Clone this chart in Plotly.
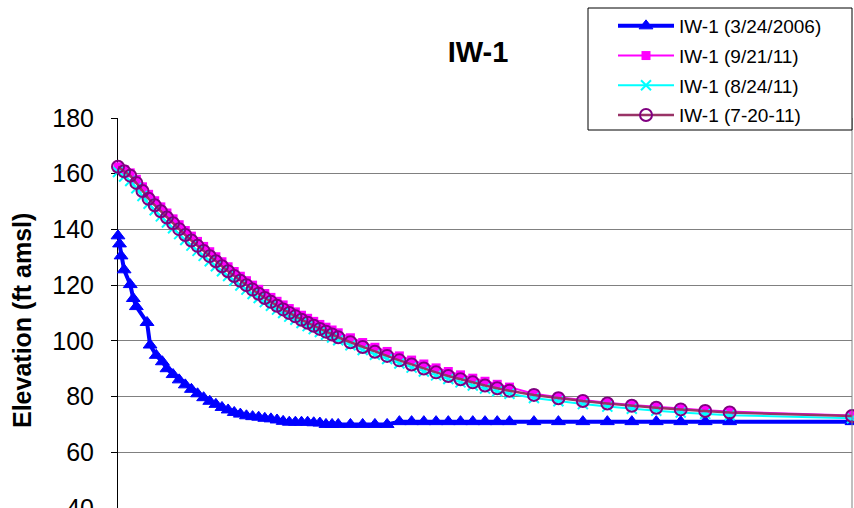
import plotly.graph_objects as go

# ---- data (time since start, arbitrary units; elevation ft amsl) ----
t_2006 = [0, 0.25, 0.5, 1, 2, 2.5, 3, 4.75, 5.25, 6.25, 7.25,
          8, 9, 10, 11, 12, 13, 14, 15, 16, 17, 18, 19, 20, 21, 22, 23, 24, 25, 26, 27,
          28, 29, 30, 31, 32, 33, 34, 35, 36,
          38, 40, 42, 44, 46, 48, 50, 52, 54, 56, 58, 60, 62, 64,
          68, 72, 76, 80, 84, 88, 92, 96, 100, 120]
iw1_2006 = [137.7, 134.8, 130.5, 125.5, 120.2, 115.2, 112.3, 106.6, 98.5, 94.8, 92.5,
            90.0, 87.9, 86.0, 84.2, 82.6, 81.0, 79.6, 78.3, 77.2, 76.1,
            75.2, 74.3, 73.7, 73.1, 72.8, 72.6, 72.2, 72.0, 71.6, 71.1,
            70.8, 70.8, 70.8, 70.8, 70.6, 70.5, 70.0, 70.0, 70.0,
            70.0, 70.0, 70.0, 70.0, 71.0, 71.0, 71.0, 71.0, 71.0, 71.0, 71.0, 71.0, 71.0, 71.0,
            71.0, 71.0, 71.0, 71.0, 71.0, 71.0, 71.0, 71.0, 71.0, 71.0]

t_2011 = [0, 1, 2, 3, 4, 5, 6, 7, 8, 9,
          10, 11, 12, 13, 14, 15, 16, 17, 18, 19,
          20, 21, 22, 23, 24, 25, 26, 27, 28, 29,
          30, 31, 32, 33, 34, 35, 36,
          38, 40, 42, 44, 46, 48, 50, 52, 54, 56, 58, 60, 62, 64,
          68, 72, 76, 80, 84, 88, 92, 96, 100, 120]
iw1_0921 = [162.5, 161.5, 160.3, 158.0, 155.3, 152.6, 150.3, 148.1, 145.9, 143.8,
            141.7, 139.6, 137.6, 135.7, 133.9, 132.0, 130.2, 128.4, 126.6, 124.9,
            123.2, 121.6, 120.0, 118.5, 117.0, 115.6, 114.2, 112.9, 111.6, 110.4,
            109.2, 108.1, 107.0, 105.9, 104.9, 103.9, 102.9,
            101.1, 99.4, 97.7, 96.2, 94.6, 93.1, 91.7, 90.3, 89.0, 87.8, 86.6, 85.5, 84.4, 83.4,
            81.0, 79.8, 78.7, 77.8, 77.0, 76.3, 75.7, 75.1, 74.6, 73.2]
iw1_0824 = [160.6, 159.0, 157.4, 154.8, 152.0, 149.2, 146.9, 144.7, 142.5, 140.4,
            138.3, 136.2, 134.2, 132.3, 130.5, 128.6, 126.8, 125.0, 123.3, 121.6,
            119.9, 118.4, 116.8, 115.4, 113.9, 112.6, 111.2, 110.0, 108.7, 107.6,
            106.4, 105.3, 104.2, 103.2, 102.2, 101.2, 100.2,
            98.4, 96.7, 95.0, 93.5, 91.9, 90.4, 89.0, 87.6, 86.3, 85.1, 84.0, 82.9, 81.9, 81.0,
            79.5, 78.3, 77.3, 76.4, 75.6, 74.9, 74.3, 73.8, 73.3, 72.2]
iw1_0720 = [162.5, 160.9, 159.3, 156.7, 153.8, 151.0, 148.7, 146.5, 144.3, 142.2,
            140.1, 138.0, 136.0, 134.1, 132.3, 130.4, 128.6, 126.8, 125.0, 123.3,
            121.6, 120.0, 118.4, 116.9, 115.4, 114.0, 112.6, 111.3, 110.0, 108.8,
            107.6, 106.5, 105.4, 104.3, 103.3, 102.3, 101.3,
            99.5, 97.8, 96.1, 94.6, 93.0, 91.5, 90.1, 88.7, 87.4, 86.2, 85.1, 84.0, 83.0, 82.1,
            80.6, 79.4, 78.4, 77.5, 76.7, 76.0, 75.4, 74.8, 74.3, 73.0]

names = ["IW-1 (3/24/2006)", "IW-1 (9/21/11)", "IW-1 (8/24/11)", "IW-1 (7-20-11)"]
y_ticks = [40, 60, 80, 100, 120, 140, 160, 180]

FONT = "Liberation Sans, Arial, sans-serif"
PW = 734.0  # plot width in px
PH = 390.0  # plot height in px

fig = go.Figure()
fig.add_trace(go.Scatter(
    x=t_2006, y=iw1_2006, name=names[0], mode="lines+markers", legendgroup="g1",
    line=dict(color="#0000FF", width=4),
    marker=dict(symbol="triangle-up", size=12, color="#0000FF", line=dict(width=1, color="#0000FF")),
    cliponaxis=False))
fig.add_trace(go.Scatter(
    x=t_2011, y=iw1_0921, name=names[1], mode="lines+markers", legendgroup="g2",
    line=dict(color="#FF00FF", width=2),
    marker=dict(symbol="square", size=9, color="#FF00FF"),
    cliponaxis=False))
fig.add_trace(go.Scatter(
    x=t_2011, y=iw1_0824, name=names[2], mode="lines+markers", legendgroup="g3",
    line=dict(color="#00FFFF", width=2),
    marker=dict(symbol="x-thin", size=10, color="#00FFFF", line=dict(width=2, color="#00FFFF")),
    cliponaxis=False))
fig.add_trace(go.Scatter(
    x=t_2011, y=iw1_0720, name=names[3], mode="lines+markers", legendgroup="g4",
    line=dict(color="#993366", width=2.5),
    marker=dict(symbol="circle-open", size=12, color="#800080", line=dict(width=2, color="#800080")),
    cliponaxis=False))

fig.update_layout(
    width=854, height=508,
    margin=dict(l=118, r=2, t=118, b=0),
    paper_bgcolor="white", plot_bgcolor="white",
    font=dict(family=FONT, color="black"),
    title=dict(text="<b>IW-1</b>", font=dict(size=29, family=FONT, color="black"),
               x=478 / 854, xanchor="center", y=1 - 52 / 508, yanchor="middle"),
    xaxis=dict(range=[0, 120], visible=False, automargin=False),
    yaxis=dict(range=[40, 180], tickvals=y_ticks, showgrid=True, gridcolor="#808080", gridwidth=1,
               showline=True, linecolor="black", linewidth=1, ticks="outside", ticklen=6,
               tickcolor="black", tickfont=dict(size=25, family=FONT, color="black"),
               ticklabelstandoff=12, ticklabeloverflow="allow", zeroline=False,
               automargin=False, layer="below traces"),
    legend=dict(x=(585 - 118) / PW, y=(508 - 7) / PH, xanchor="left", yanchor="top",
                bgcolor="rgba(0,0,0,0)", borderwidth=0,
                font=dict(size=19, family=FONT, color="black"),
                tracegroupgap=2, itemwidth=56, indentation=28),
    annotations=[dict(text="<b>Elevation (ft amsl)</b>", textangle=-90, font=dict(size=25, family=FONT),
                      x=(22 - 118) / PW, y=(508 - 321) / PH, xref="paper", yref="paper",
                      showarrow=False, xanchor="center", yanchor="middle")],
    shapes=[
        dict(type="line", xref="paper", yref="paper", x0=1, x1=1, y0=0, y1=1,
             line=dict(color="#808080", width=1)),
        dict(type="rect", xref="paper", yref="paper", layer="above",
             x0=(588 - 118) / PW, x1=(852 - 118) / PW, y0=(508 - 130) / PH, y1=(508 - 8) / PH,
             fillcolor="white", line=dict(color="black", width=1)),
    ],
)

fig.write_html("out.html")
